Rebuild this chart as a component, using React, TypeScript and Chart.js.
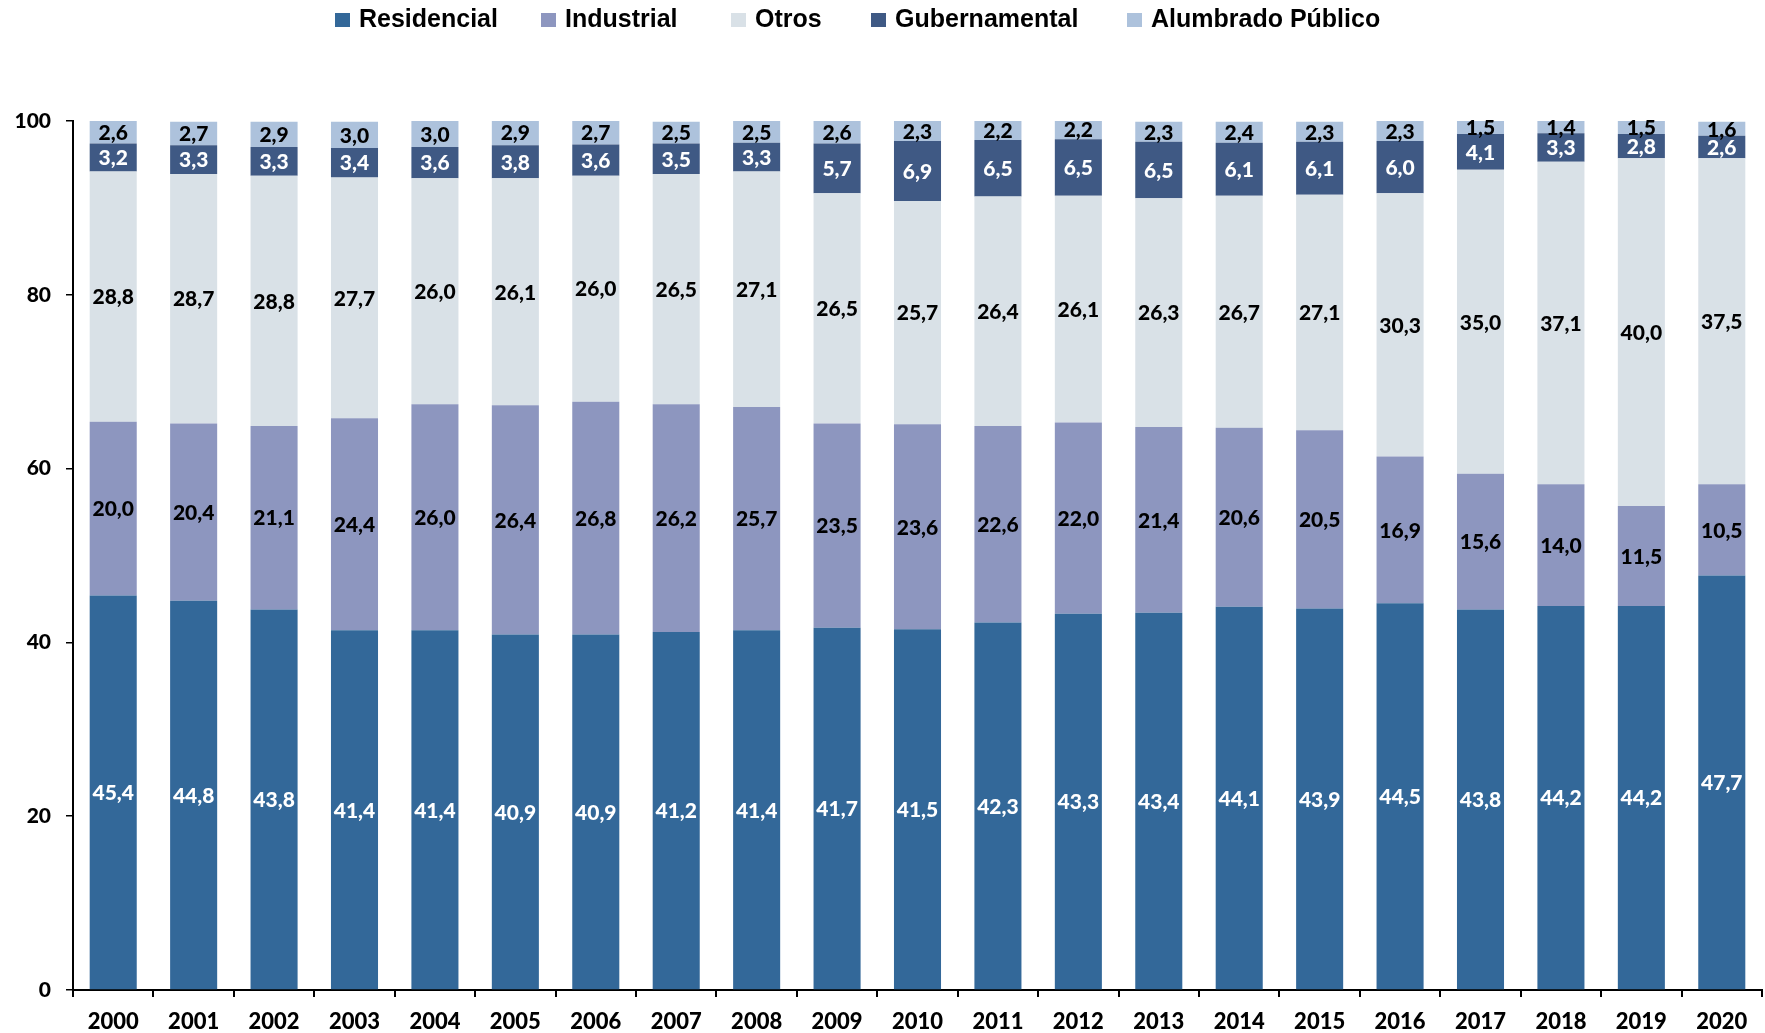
import { useEffect, useRef } from 'react';
import { Chart, registerables } from 'chart.js';
Chart.register(...registerables);

const years = ['2000','2001','2002','2003','2004','2005','2006','2007','2008','2009','2010','2011','2012','2013','2014','2015','2016','2017','2018','2019','2020'];
const seriesNames = ['Residencial', 'Industrial', 'Otros', 'Gubernamental', 'Alumbrado Público'];
const residencial = [45.4,44.8,43.8,41.4,41.4,40.9,40.9,41.2,41.4,41.7,41.5,42.3,43.3,43.4,44.1,43.9,44.5,43.8,44.2,44.2,47.7];
const industrial = [20.0,20.4,21.1,24.4,26.0,26.4,26.8,26.2,25.7,23.5,23.6,22.6,22.0,21.4,20.6,20.5,16.9,15.6,14.0,11.5,10.5];
const otros = [28.8,28.7,28.8,27.7,26.0,26.1,26.0,26.5,27.1,26.5,25.7,26.4,26.1,26.3,26.7,27.1,30.3,35.0,37.1,40.0,37.5];
const gubernamental = [3.2,3.3,3.3,3.4,3.6,3.8,3.6,3.5,3.3,5.7,6.9,6.5,6.5,6.5,6.1,6.1,6.0,4.1,3.3,2.8,2.6];
const alumbrado = [2.6,2.7,2.9,3.0,3.0,2.9,2.7,2.5,2.5,2.6,2.3,2.2,2.2,2.3,2.4,2.3,2.3,1.5,1.4,1.5,1.6];

const colors = ['#336899', '#8D96BF', '#D9E1E7', '#3F5984', '#ADC2DC'];
const labelColors = ['#FFFFFF', '#000000', '#000000', '#FFFFFF', '#000000'];
const legendBoxX = [335, 541, 731, 871, 1127];

const labelsPlugin = {
  id: 'segLabels',
  afterDatasetsDraw(chart: any) {
    const ctx = chart.ctx;
    ctx.save();
    ctx.font = '900 21px Lato';
    ctx.textAlign = 'center';
    ctx.textBaseline = 'middle';
    chart.data.datasets.forEach((ds: any, i: number) => {
      const meta = chart.getDatasetMeta(i);
      meta.data.forEach((bar: any, j: number) => {
        const p = bar.getProps(['x', 'y', 'base'], true);
        const v = ds.data[j] as number;
        ctx.fillStyle = labelColors[i];
        ctx.fillText(v.toFixed(1).replace('.', ','), p.x, (p.y + p.base) / 2 + 1);
      });
    });
    ctx.restore();
  },
};

const legendPlugin = {
  id: 'customLegend',
  afterDraw(chart: any) {
    const ctx = chart.ctx;
    ctx.save();
    ctx.font = 'bold 25px "Liberation Sans"';
    ctx.textBaseline = 'alphabetic';
    ctx.textAlign = 'left';
    chart.data.datasets.forEach((ds: any, i: number) => {
      const x = legendBoxX[i];
      ctx.fillStyle = ds.backgroundColor;
      ctx.fillRect(x, 13, 15, 14);
      ctx.fillStyle = '#000';
      ctx.fillText(ds.label, x + 24, 27);
    });
    ctx.restore();
  },
};

export default function App() {
  const ref = useRef<HTMLCanvasElement>(null);
  useEffect(() => {
    const canvas = ref.current!;
    const series = [residencial, industrial, otros, gubernamental, alumbrado];
    const chart = new Chart(canvas, {
      type: 'bar',
      data: {
        labels: years,
        datasets: series.map((d, i) => ({
          label: seriesNames[i],
          data: d,
          backgroundColor: colors[i],
          borderWidth: 0,
          categoryPercentage: 1,
          barPercentage: 0.585,
        })),
      },
      options: {
        responsive: false,
        animation: false,
        devicePixelRatio: 1,
        layout: { padding: { top: 121, right: 3, left: 0, bottom: 0 } },
        plugins: { legend: { display: false }, tooltip: { enabled: false } },
        scales: {
          x: {
            stacked: true,
            grid: { display: true, drawOnChartArea: false, drawTicks: true, tickLength: 7, color: '#000', lineWidth: 2, offset: true },
            border: { display: true, color: '#000', width: 2 },
            ticks: { color: '#000', font: { family: 'Lato', weight: '900', size: 22 }, padding: 12, maxRotation: 0, autoSkip: false },
            afterFit: (s: any) => { s.height = 43; },
          },
          y: {
            stacked: true,
            min: 0,
            max: 100,
            grid: { display: true, drawOnChartArea: false, drawTicks: true, tickLength: 7, color: '#000', lineWidth: 1.5 },
            border: { display: true, color: '#000', width: 2 },
            ticks: { stepSize: 20, color: '#000', font: { family: 'Lato', weight: '900', size: 21 }, padding: 15 },
            afterFit: (s: any) => { s.width = 73; },
          },
        },
      } as any,
      plugins: [labelsPlugin, legendPlugin],
    });
    return () => chart.destroy();
  }, []);
  return (
    <div style={{ position: 'fixed', left: 0, top: 0, width: 1765, height: 1033, background: '#fff' }}>
      <canvas ref={ref} width={1765} height={1033} style={{ display: 'block', width: 1765, height: 1033 }} />
    </div>
  );
}
